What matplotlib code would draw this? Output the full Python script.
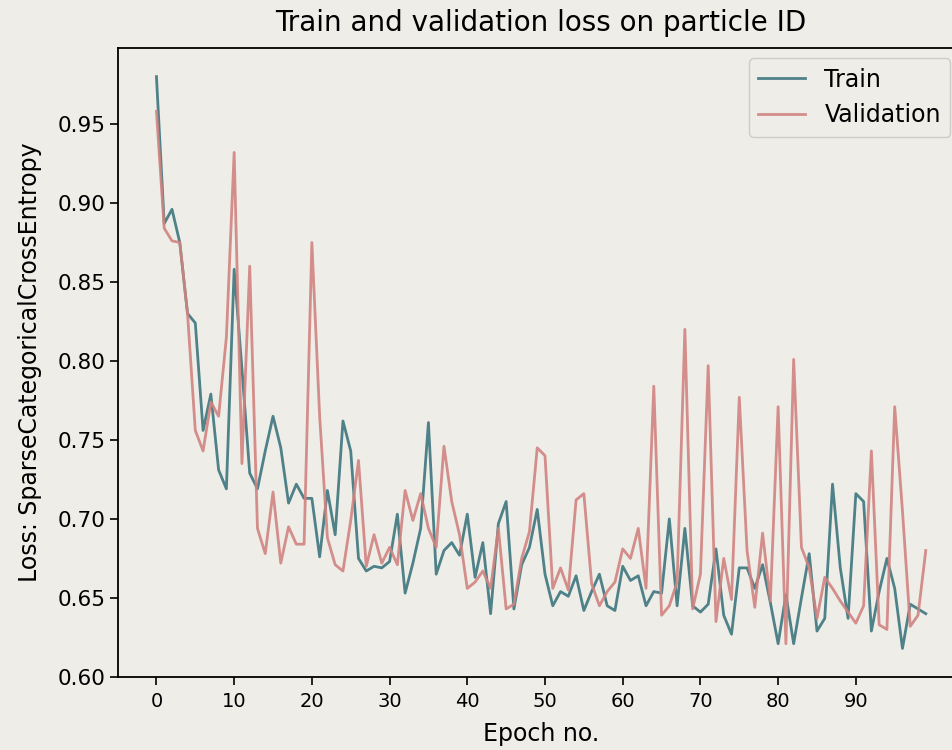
import numpy as np
import matplotlib
matplotlib.use('Agg')
import matplotlib.pyplot as plt

# --- loss history (100 epochs) ---
epochs = np.arange(100)

train_loss = [
    0.980, 0.887, 0.896, 0.875, 0.830, 0.824, 0.756, 0.779, 0.731, 0.719,
    0.858, 0.795, 0.729, 0.719, 0.743, 0.765, 0.745, 0.710, 0.722, 0.713,
    0.713, 0.676, 0.718, 0.690, 0.762, 0.743, 0.675, 0.667, 0.670, 0.669,
    0.673, 0.703, 0.653, 0.672, 0.694, 0.761, 0.665, 0.680, 0.685, 0.677,
    0.703, 0.663, 0.685, 0.640, 0.697, 0.711, 0.643, 0.671, 0.682, 0.706,
    0.665, 0.645, 0.654, 0.651, 0.664, 0.642, 0.654, 0.665, 0.645, 0.642,
    0.670, 0.661, 0.664, 0.645, 0.654, 0.653, 0.700, 0.645, 0.694, 0.645,
    0.641, 0.646, 0.681, 0.639, 0.627, 0.669, 0.669, 0.656, 0.671, 0.647,
    0.621, 0.652, 0.621, 0.650, 0.678, 0.629, 0.637, 0.722, 0.669, 0.637,
    0.716, 0.711, 0.629, 0.654, 0.675, 0.656, 0.618, 0.646, 0.643, 0.640,
]

val_loss = [
    0.958, 0.884, 0.876, 0.875, 0.830, 0.756, 0.743, 0.774, 0.765, 0.815,
    0.932, 0.735, 0.860, 0.694, 0.678, 0.717, 0.672, 0.695, 0.684, 0.684,
    0.875, 0.765, 0.688, 0.671, 0.667, 0.699, 0.737, 0.670, 0.690, 0.672,
    0.682, 0.671, 0.718, 0.699, 0.716, 0.694, 0.682, 0.746, 0.711, 0.690,
    0.656, 0.660, 0.667, 0.656, 0.694, 0.643, 0.646, 0.675, 0.692, 0.745,
    0.740, 0.656, 0.669, 0.655, 0.712, 0.716, 0.659, 0.645, 0.654, 0.660,
    0.681, 0.675, 0.694, 0.656, 0.784, 0.639, 0.645, 0.660, 0.820, 0.643,
    0.665, 0.797, 0.635, 0.675, 0.649, 0.777, 0.680, 0.644, 0.691, 0.648,
    0.771, 0.621, 0.801, 0.682, 0.669, 0.637, 0.663, 0.656, 0.648, 0.641,
    0.634, 0.645, 0.743, 0.633, 0.630, 0.771, 0.705, 0.632, 0.639, 0.680,
]

x_ticks = list(range(0, 100, 10))
y_ticks = [0.60, 0.65, 0.70, 0.75, 0.80, 0.85, 0.90, 0.95]

bg = '#eeede7'
train_col = '#4f8189'
val_col = '#d08380'

fig = plt.figure(figsize=(9.53, 7.5), dpi=100, facecolor=bg)
# axes runs a little past the right edge, like the cropped original
ax = fig.add_axes([0.1238, 0.0973, 0.888, 0.8387], facecolor=bg)

ax.plot(epochs, train_loss, color=train_col, lw=2.0, label='Train')
ax.plot(epochs, val_loss, color=val_col, lw=2.0, alpha=0.9, label='Validation')

ax.set_xticks(x_ticks)
ax.set_yticks(y_ticks)
ax.set_yticklabels([f'{v:.2f}' for v in y_ticks])
ax.tick_params(length=6, width=1.2)
ax.tick_params(axis='x', labelsize=14, pad=5)
ax.tick_params(axis='y', labelsize=15.5, pad=3)
for sp in ax.spines.values():
    sp.set_linewidth(1.3)

ax.set_title('Train and validation loss on particle ID', fontsize=20, pad=12)
ax.set_xlabel('Epoch no.', fontsize=17, labelpad=8)
ax.set_ylabel('Loss: SparseCategoricalCrossEntropy', fontsize=17, labelpad=11)

leg = ax.legend(loc='upper right', fontsize=17, facecolor=bg, framealpha=1.0,
                bbox_to_anchor=(0.9835, 0.984), borderaxespad=0)
leg.get_frame().set_edgecolor('#cccccc')

fig.savefig('out.png', dpi=100, facecolor=bg)
